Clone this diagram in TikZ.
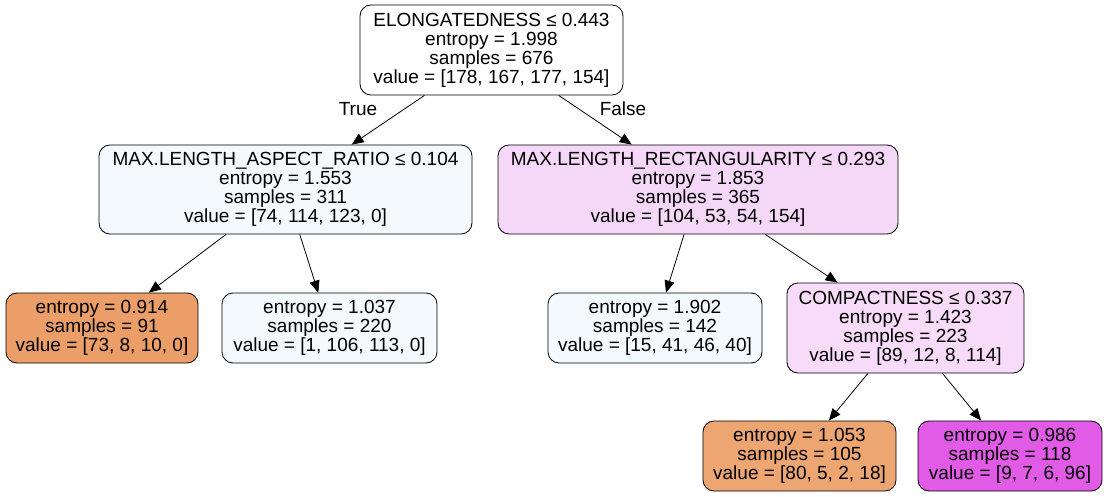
\documentclass[tikz,border=0pt]{standalone}
\usepackage{fontspec}
\setmainfont{Liberation Sans}
\usetikzlibrary{arrows.meta}
\definecolor{orA}{HTML}{EB9E67}
\definecolor{orB}{HTML}{EDA571}
\definecolor{magA}{HTML}{E15BE6}
\definecolor{blA}{HTML}{F4F9FE}
\definecolor{pkA}{HTML}{F5D7F8}
\definecolor{pkB}{HTML}{F7DBF9}
\tikzset{
  tnode/.style={draw=black, line width=0.8pt, rounded corners=11pt, align=center,
    font=\fontsize{19}{19}\selectfont, inner sep=0pt},
  edge/.style={line width=0.8pt, -{Triangle[length=12pt,width=10pt]}},
  elabel/.style={font=\fontsize{19}{19}\selectfont}
}
\begin{document}
\begin{tikzpicture}[x=1pt,y=-1pt]
\useasboundingbox (0,0) rectangle (1108,497);
\node[tnode, fill=white, minimum width=263pt, minimum height=90pt] (root) at (491.5,50)
  {ELONGATEDNESS ≤ 0.443\\entropy = 1.998\\samples = 676\\value = [178, 167, 177, 154]};
\node[tnode, fill=blA, minimum width=373pt, minimum height=89pt] (l1) at (285.5,189.5)
  {MAX.LENGTH\_ASPECT\_RATIO ≤ 0.104\\entropy = 1.553\\samples = 311\\value = [74, 114, 123, 0]};
\node[tnode, fill=pkA, minimum width=400pt, minimum height=89pt] (r1) at (698,189.5)
  {MAX.LENGTH\_RECTANGULARITY ≤ 0.293\\entropy = 1.853\\samples = 365\\value = [104, 53, 54, 154]};
\node[tnode, fill=orA, minimum width=192pt, minimum height=70pt] (ll) at (102,328)
  {entropy = 0.914\\samples = 91\\value = [73, 8, 10, 0]};
\node[tnode, fill=blA, minimum width=215pt, minimum height=70pt] (lr) at (329.5,328)
  {entropy = 1.037\\samples = 220\\value = [1, 106, 113, 0]};
\node[tnode, fill=blA, minimum width=214pt, minimum height=70pt] (rl) at (655,328)
  {entropy = 1.902\\samples = 142\\value = [15, 41, 46, 40]};
\node[tnode, fill=pkB, minimum width=237pt, minimum height=90pt] (rr) at (905.5,328)
  {COMPACTNESS ≤ 0.337\\entropy = 1.423\\samples = 223\\value = [89, 12, 8, 114]};
\node[tnode, fill=orB, minimum width=193pt, minimum height=70pt] (rrl) at (799.5,456)
  {entropy = 1.053\\samples = 105\\value = [80, 5, 2, 18]};
\node[tnode, fill=magA, minimum width=184pt, minimum height=70pt] (rrr) at (1010,456)
  {entropy = 0.986\\samples = 118\\value = [9, 7, 6, 96]};
\draw[edge] (root) -- (l1);
\draw[edge] (root) -- (r1);
\draw[edge] (l1) -- (ll);
\draw[edge] (l1) -- (lr);
\draw[edge] (r1) -- (rl);
\draw[edge] (r1) -- (rr);
\draw[edge] (rr) -- (rrl);
\draw[edge] (rr) -- (rrr);
\node[elabel] (t) at (358,109) {True};
\node[elabel] (f) at (623,109) {False};
\end{tikzpicture}
\end{document}
